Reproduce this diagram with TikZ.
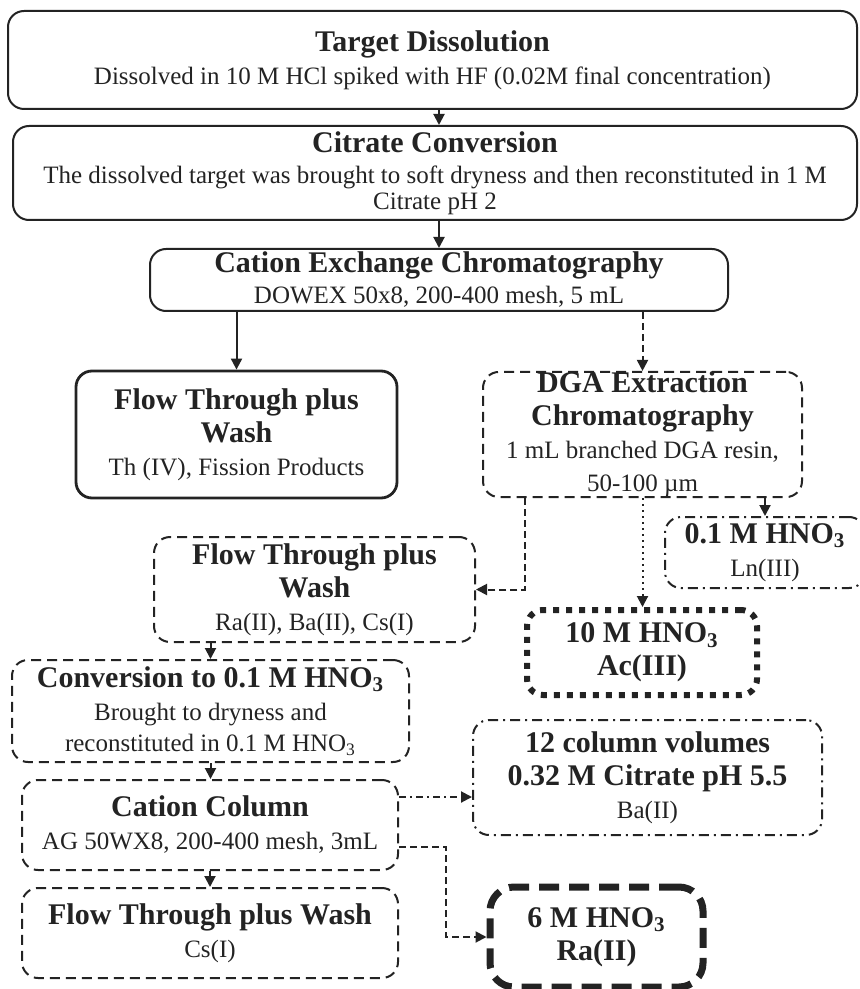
\documentclass[tikz,border=0pt]{standalone}
\usepackage{fontspec}
\setmainfont{Liberation Serif}
\usetikzlibrary{arrows.meta}
\definecolor{ink}{RGB}{35,35,35}
\newcommand{\ttl}{\bfseries\fontsize{15}{16.5}\selectfont}
\newcommand{\bdy}{\mdseries\fontsize{12.5}{16.5}\selectfont}
\tikzset{
  box/.style={draw=ink, text=ink, line width=1pt, rounded corners=8pt, align=center,
    inner sep=0pt, font=\fontsize{12.5}{16.5}\selectfont},
  dashbox/.style={box, dash pattern=on 5pt off 3pt},
  dashdotbox/.style={box, dash pattern=on 5pt off 2.5pt on 1pt off 2.5pt},
  dotbox/.style={box, line width=3pt, dash pattern=on 3pt off 3.5pt},
  heavybox/.style={box, line width=3.5pt, rounded corners=12pt, dash pattern=on 10pt off 5pt},
  arr/.style={draw=ink, line width=1pt, -{Triangle[length=5.5pt,width=5.5pt]}},
  dsh/.style={dash pattern=on 3.5pt off 2pt},
  dshdot/.style={dash pattern=on 3.5pt off 2pt on 1pt off 2pt}
}
\begin{document}
\begin{tikzpicture}[x=0.5pt,y=-0.5pt]
  \useasboundingbox (0,0) rectangle (859,989);
  \node[box, minimum width=424.5pt, minimum height=49pt] (td) at (432.5,60)
    {{\ttl Target Dissolution}\\
     {\bdy Dissolved in 10 M HCl spiked with HF (0.02M final concentration)}};
  \node[box, minimum width=422pt, minimum height=47pt] (cc) at (435,173)
    {{\ttl Citrate Conversion}\\[-1pt]
     {\bdy The dissolved target was brought to soft dryness and then reconstituted in 1 M}\\[-3.5pt]
     {\bdy Citrate pH 2}};
  \node[box, minimum width=289pt, minimum height=31pt] (ce) at (439,280)
    {{\ttl Cation Exchange Chromatography}\\[-1pt]
     {\bdy DOWEX 50x8, 200-400 mesh, 5 mL}};
  \node[box, line width=1.4pt, minimum width=160.5pt, minimum height=63.5pt] (ft1) at (236.5,434.5)
    {{\ttl Flow Through plus}\\{\ttl Wash}\\{\bdy Th (IV), Fission Products}};
  \node[dashbox, minimum width=159.5pt, minimum height=62.5pt] (dga) at (642.5,434.5)
    {{\ttl DGA Extraction}\\{\ttl Chromatography}\\{\bdy 1 mL branched DGA resin,}\\{\bdy 50-100 µm}};
  \node[dashdotbox, minimum width=100pt, minimum height=35.5pt] (hno1) at (765,552.5)
    {{\ttl 0.1 M HNO\textsubscript{3}}\\{\bdy Ln(III)}};
  \node[dashbox, minimum width=160.5pt, minimum height=52.5pt] (ft2) at (314.5,589.5)
    {{\ttl Flow Through plus}\\{\ttl Wash}\\{\bdy Ra(II), Ba(II), Cs(I)}};
  \node[dotbox, minimum width=115pt, minimum height=42.5pt] (hno10) at (642,652.5)
    {{\ttl 10 M HNO\textsubscript{3}}\\{\ttl Ac(III)}};
  \node[dashbox, minimum width=198.5pt, minimum height=51pt] (conv) at (210.5,711)
    {{\ttl Conversion to 0.1 M HNO\textsubscript{3}}\\{\bdy Brought to dryness and}\\[-1pt]
     {\bdy reconstituted in 0.1 M HNO\textsubscript{3}}};
  \node[dashbox, minimum width=188pt, minimum height=45pt] (col) at (210,825)
    {{\ttl Cation Column}\\{\bdy AG 50WX8, 200-400 mesh, 3mL}};
  \node[dashbox, minimum width=188pt, minimum height=45pt] (ft3) at (210,933)
    {{\ttl Flow Through plus Wash}\\{\bdy Cs(I)}};
  \node[dashdotbox, minimum width=174.5pt, minimum height=57.5pt] (cv12) at (647.5,777.5)
    {{\ttl 12 column volumes}\\{\ttl 0.32 M Citrate pH 5.5}\\{\bdy Ba(II)}};
  \node[heavybox, minimum width=106.5pt, minimum height=50pt] (hno6) at (596.5,937)
    {{\ttl 6 M HNO\textsubscript{3}}\\{\ttl Ra(II)}};
  \draw[arr] (td.south -| ce.north) -- (cc.north -| ce.north);
  \draw[arr] (cc.south -| ce.north) -- (ce.north);
  \draw[arr] (ce.south -| ft1.north) -- (ft1.north);
  \draw[arr, dsh] (ce.south -| dga.north) -- (dga.north);
  \draw[arr, dsh] ([xshift=-58.75pt]dga.south) |- (ft2.east);
  \draw[arr, dotted] (dga.south) -- (dga.south |- hno10.north);
  \draw[arr] (hno1.north |- dga.south) -- (hno1.north);
  \draw[arr] (ft2.south -| conv.north) -- (conv.north);
  \draw[arr] (conv.south) -- (conv.south |- col.north);
  \draw[arr] (col.south) -- (col.south |- ft3.north);
  \draw[arr, dshdot] ([yshift=14pt]col.east) -- ([yshift=14pt]col.east -| cv12.west);
  \draw[arr, dsh] ([yshift=-11pt]col.east) -- ++(47,0) |- (hno6.west);
\end{tikzpicture}
\end{document}
